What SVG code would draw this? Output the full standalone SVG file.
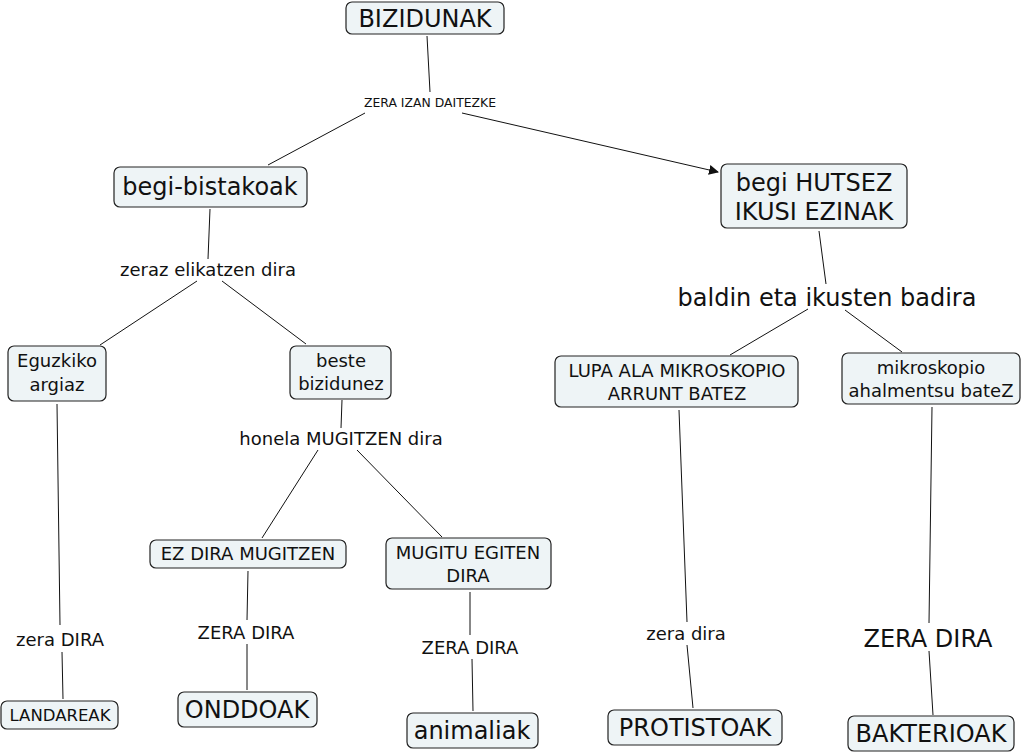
<svg xmlns="http://www.w3.org/2000/svg" width="1024" height="753" viewBox="0 0 1024 753">
<style>
.n{fill:#eef4f6;stroke:#222;stroke-width:1.2}
text{font-family:"DejaVu Sans","Liberation Sans",sans-serif;fill:#111;text-anchor:middle}
.l{font-size:24px}
.m{font-size:18px}
.s{font-size:12.4px}
.c{stroke:#111;stroke-width:1;fill:none}
</style>
<defs>
<marker id="ah" viewBox="0 0 10 10" refX="9" refY="5" markerWidth="10" markerHeight="10" markerUnits="userSpaceOnUse" orient="auto">
<path d="M0,0 L10,5 L0,10 z" fill="#111"/>
</marker>
</defs>
<rect width="1024" height="753" fill="#fff"/>
<g id="connectors">
<path class="c" d="M427,36 L430,92"/>
<path class="c" d="M365,113 L268,165"/>
<path class="c" d="M462,113 L718,172" marker-end="url(#ah)"/>
<path class="c" d="M210,209 L208,259"/>
<path class="c" d="M197,281 L100,345"/>
<path class="c" d="M222,281 L306,344"/>
<path class="c" d="M57,404 L60,625"/>
<path class="c" d="M62,652 L63,699"/>
<path class="c" d="M342,400 L341,428"/>
<path class="c" d="M318,450 L262,538"/>
<path class="c" d="M357,450 L442,537"/>
<path class="c" d="M248,571 L247,620"/>
<path class="c" d="M247,644 L247,690"/>
<path class="c" d="M470,592 L470,635"/>
<path class="c" d="M472,659 L473,711"/>
<path class="c" d="M819,231 L826,284"/>
<path class="c" d="M808,309 L730,355"/>
<path class="c" d="M845,310 L902,352"/>
<path class="c" d="M679,410 L687,622"/>
<path class="c" d="M687,645 L693,708"/>
<path class="c" d="M932,407 L929,623"/>
<path class="c" d="M929,651 L933,715"/>
</g>
<g id="labels">
<text class="s" x="430" y="107">ZERA IZAN DAITEZKE</text>
<text class="m" x="208" y="276">zeraz elikatzen dira</text>
<text class="m" x="341" y="445">honela MUGITZEN dira</text>
<text class="m" x="60" y="646">zera DIRA</text>
<text class="m" x="246" y="639">ZERA DIRA</text>
<text class="m" x="470" y="654">ZERA DIRA</text>
<text class="m" x="686" y="640">zera dira</text>
<text class="l" x="928" y="647">ZERA DIRA</text>
<text class="l" x="827" y="306">baldin eta ikusten badira</text>
</g>
<g id="bizidunak"><rect class="n" x="346" y="2" width="158" height="32" rx="6"/><text class="l" x="425" y="27">BIZIDUNAK</text></g>
<g id="begi-bistakoak"><rect class="n" x="114" y="167" width="193" height="40" rx="6"/><text class="l" x="210" y="195">begi-bistakoak</text></g>
<g id="begi-hutsez"><rect class="n" x="721" y="164" width="186" height="64" rx="6"/><text class="l" x="814" y="191">begi HUTSEZ</text><text class="l" x="814" y="220">IKUSI EZINAK</text></g>
<g id="eguzkiko"><rect class="n" x="8" y="346" width="98" height="55" rx="6"/><text class="m" x="57" y="367">Eguzkiko</text><text class="m" x="57" y="391">argiaz</text></g>
<g id="beste"><rect class="n" x="290" y="346" width="101" height="53" rx="6"/><text class="m" x="341" y="367">beste</text><text class="m" x="341" y="390">bizidunez</text></g>
<g id="lupa"><rect class="n" x="555" y="356" width="243" height="51" rx="6"/><text class="m" x="677" y="377">LUPA ALA MIKROSKOPIO</text><text class="m" x="677" y="400">ARRUNT BATEZ</text></g>
<g id="mikroskopio"><rect class="n" x="842" y="353" width="178" height="51" rx="6"/><text class="m" x="931" y="374">mikroskopio</text><text class="m" x="931" y="397">ahalmentsu bateZ</text></g>
<g id="ez-dira"><rect class="n" x="150" y="540" width="196" height="28" rx="6"/><text class="m" x="248" y="560">EZ DIRA MUGITZEN</text></g>
<g id="mugitu"><rect class="n" x="386" y="538" width="165" height="51" rx="6"/><text class="m" x="468" y="559">MUGITU EGITEN</text><text class="m" x="468" y="582">DIRA</text></g>
<g id="landareak"><rect class="n" x="1" y="701" width="117" height="28" rx="6"/><text x="60" y="721" font-size="16.5">LANDAREAK</text></g>
<g id="onddoak"><rect class="n" x="178" y="692" width="139" height="35" rx="6"/><text class="l" x="247" y="718">ONDDOAK</text></g>
<g id="animaliak"><rect class="n" x="407" y="713" width="131" height="35" rx="6"/><text class="l" x="472" y="739">animaliak</text></g>
<g id="protistoak"><rect class="n" x="608" y="710" width="174" height="35" rx="6"/><text class="l" x="695" y="736">PROTISTOAK</text></g>
<g id="bakterioak"><rect class="n" x="848" y="716" width="166" height="35" rx="6"/><text class="l" x="931" y="742">BAKTERIOAK</text></g>
</svg>
